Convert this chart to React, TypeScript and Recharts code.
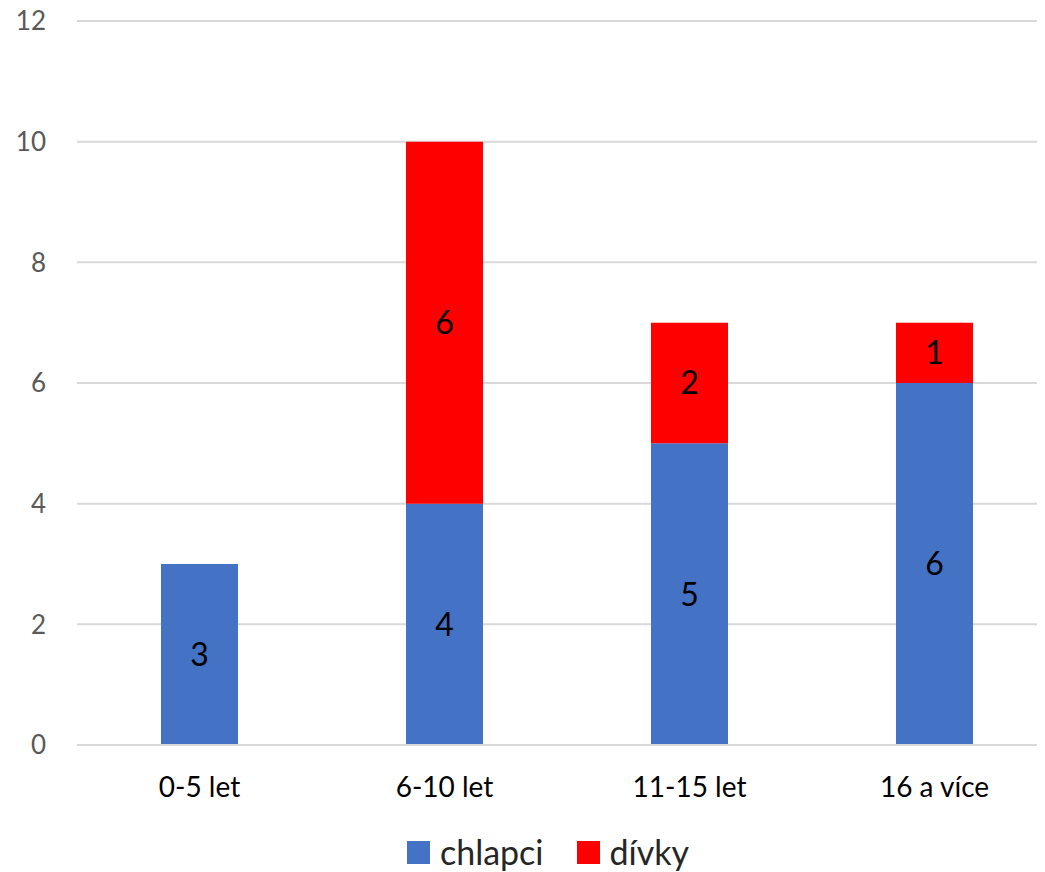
import { Bar, BarChart, CartesianGrid, LabelList, Legend, XAxis, YAxis } from "recharts";

const categories = ["0-5 let", "6-10 let", "11-15 let", "16 a více"];
const chlapci = [3, 4, 5, 6];
const divky = [0, 6, 2, 1];
const yTicks = [0, 2, 4, 6, 8, 10, 12];

const seriesInfo = [
  { key: "chlapci", color: "#4472c4" },
  { key: "dívky", color: "#ff0000" },
];

const data = categories.map((name, i) => ({
  name,
  chlapci: chlapci[i],
  dívky: divky[i],
}));

const FONT = "Lato, 'Open Sans', sans-serif";

const hideZero = (v: any) => (v ? v : "");

const renderLegend = () => (
  <div
    style={{
      display: "flex",
      justifyContent: "center",
      alignItems: "center",
      gap: 33,
      paddingLeft: 22,
      fontFamily: FONT,
      fontSize: 34,
      color: "#262626",
      lineHeight: "36px",
    }}
  >
    {seriesInfo.map((s) => (
      <div key={s.key} style={{ display: "flex", alignItems: "center" }}>
        <span style={{ width: 23, height: 23, background: s.color, marginRight: 10, display: "inline-block" }} />
        <span>{s.key}</span>
      </div>
    ))}
  </div>
);

const App = () => {
  return (
    <div style={{ width: 1037, height: 872, overflow: "hidden", marginTop: -8, fontFamily: FONT }}>
      <BarChart
        width={1052}
        height={872}
        data={data}
        margin={{ top: 21, right: 3, bottom: 2, left: 9 }}
      >
        <CartesianGrid vertical={false} stroke="#d9d9d9" strokeWidth={2} />
        <XAxis
          dataKey="name"
          axisLine={{ stroke: "#d9d9d9", strokeWidth: 2 }}
          tickLine={false}
          tickMargin={26}
          height={89}
          tick={{ fill: "#000", fontSize: 28, fontFamily: FONT }}
        />
        <YAxis
          domain={[0, 12]}
          ticks={yTicks}
          axisLine={false}
          tickLine={false}
          tickMargin={25}
          width={60}
          tick={{ fill: "#595959", fontSize: 26, fontFamily: FONT }}
        />
        <Legend verticalAlign="bottom" content={renderLegend} />
        <Bar dataKey="chlapci" stackId="a" fill="#4472c4" barSize={77} isAnimationActive={false}>
          <LabelList dataKey="chlapci" position="center" fill="#000" fontSize={32} fontFamily={FONT} formatter={hideZero} />
        </Bar>
        <Bar dataKey="dívky" stackId="a" fill="#ff0000" barSize={77} isAnimationActive={false}>
          <LabelList dataKey="dívky" position="center" fill="#000" fontSize={32} fontFamily={FONT} formatter={hideZero} />
        </Bar>
      </BarChart>
    </div>
  );
};

export default App;
